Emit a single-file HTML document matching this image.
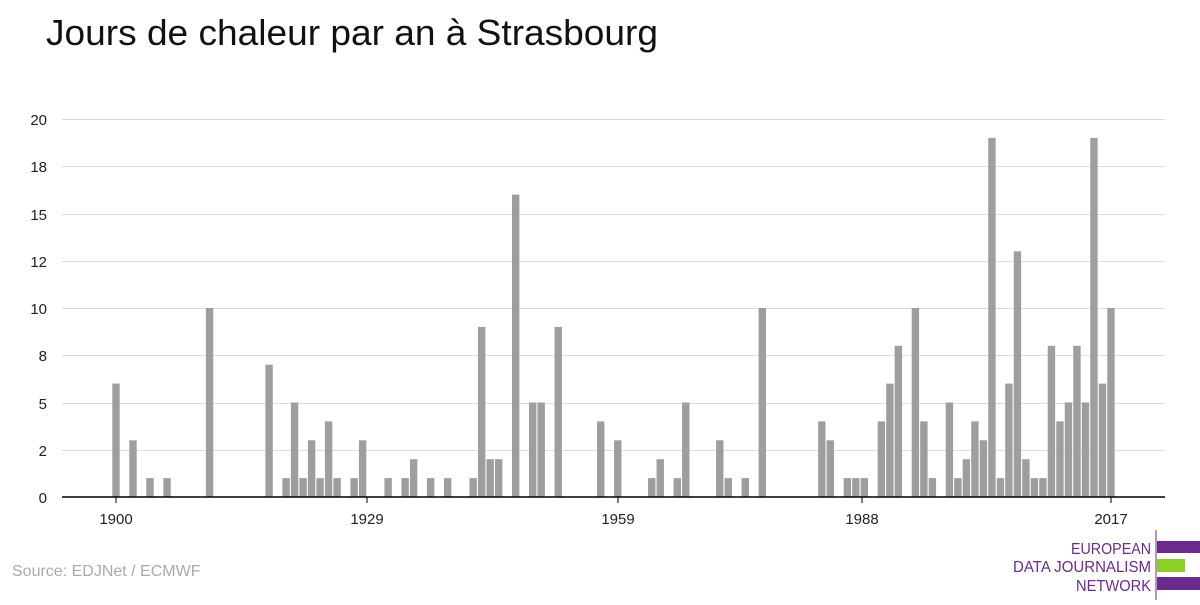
<!DOCTYPE html>
<html><head><meta charset="utf-8"><style>
body{margin:0;background:#fff;width:1200px;height:600px;overflow:hidden;font-family:"Liberation Sans",sans-serif}
</style></head><body>
<svg width="1200" height="600" xmlns="http://www.w3.org/2000/svg" font-family="Liberation Sans, sans-serif">
<text x="46" y="45" font-size="36" fill="#111" textLength="612" lengthAdjust="spacingAndGlyphs">Jours de chaleur par an à Strasbourg</text>
<g stroke="#dcdcdc" stroke-width="1">
<line x1="62" x2="1165" y1="119.5" y2="119.5"/><line x1="62" x2="1165" y1="166.5" y2="166.5"/>
<line x1="62" x2="1165" y1="214.5" y2="214.5"/><line x1="62" x2="1165" y1="261.5" y2="261.5"/>
<line x1="62" x2="1165" y1="308.5" y2="308.5"/><line x1="62" x2="1165" y1="355.5" y2="355.5"/>
<line x1="62" x2="1165" y1="403.5" y2="403.5"/><line x1="62" x2="1165" y1="450.5" y2="450.5"/>
</g>
<g font-size="15" fill="#222" text-anchor="end">
<text x="47" y="125">20</text><text x="47" y="172">18</text><text x="47" y="220">15</text><text x="47" y="267">12</text>
<text x="47" y="314">10</text><text x="47" y="361">8</text><text x="47" y="409">5</text><text x="47" y="456">2</text><text x="47" y="503">0</text>
</g>
<g id="bars" fill="#9e9e9e"></g>
<line x1="62" x2="1165" y1="497" y2="497" stroke="#000" stroke-width="1.5"/>
<g stroke="#000"><line x1="116" x2="116" y1="497" y2="503"/><line x1="367" x2="367" y1="497" y2="503"/><line x1="618" x2="618" y1="497" y2="503"/><line x1="862" x2="862" y1="497" y2="503"/><line x1="1111" x2="1111" y1="497" y2="503"/></g>
<g font-size="15" fill="#222" text-anchor="middle">
<text x="116" y="524">1900</text><text x="367" y="524">1929</text><text x="618" y="524">1959</text><text x="862" y="524">1988</text><text x="1111" y="524">2017</text>
</g>
<text x="12" y="576" font-size="16" fill="#aaa">Source: EDJNet / ECMWF</text>
<g font-size="16" fill="#6a2b8c" text-anchor="end">
<text x="1151" y="554" textLength="80" lengthAdjust="spacingAndGlyphs">EUROPEAN</text><text x="1151" y="572" textLength="138" lengthAdjust="spacingAndGlyphs">DATA JOURNALISM</text><text x="1151" y="591" textLength="75" lengthAdjust="spacingAndGlyphs">NETWORK</text>
</g>
<line x1="1156" x2="1156" y1="530" y2="600" stroke="#6a2b8c" stroke-width="1"/>
<rect x="1157" y="541" width="43" height="12" fill="#6a2b8c"/>
<rect x="1157" y="559" width="28" height="13" fill="#8ccf25"/>
<rect x="1157" y="577" width="43" height="13" fill="#6a2b8c"/>
</svg>
<script>
var d={1900:6,1902:3,1904:1,1906:1,1911:10,1918:7,1920:1,1921:5,1922:1,1923:3,1924:1,1925:4,1926:1,1928:1,1929:3,1932:1,1934:1,1935:2,1937:1,1939:1,1942:1,1943:9,1944:2,1945:2,1947:16,1949:5,1950:5,1952:9,1957:4,1959:3,1963:1,1964:2,1966:1,1967:5,1971:3,1972:1,1974:1,1976:10,1983:4,1984:3,1986:1,1987:1,1988:1,1990:4,1991:6,1992:8,1994:10,1995:4,1996:1,1998:5,1999:1,2000:2,2001:4,2002:3,2003:19,2004:1,2005:6,2006:13,2007:2,2008:1,2009:1,2010:8,2011:4,2012:5,2013:8,2014:5,2015:19,2016:6,2017:10};
var g=document.getElementById('bars'),s='';
for(var y in d){var x=116+(y-1900)*8.504;var h=d[y]*18.9;s+='<rect x="'+(x-3.7)+'" y="'+(497-h)+'" width="7.4" height="'+h+'"/>';}
g.innerHTML=s;
</script>
</body></html>
